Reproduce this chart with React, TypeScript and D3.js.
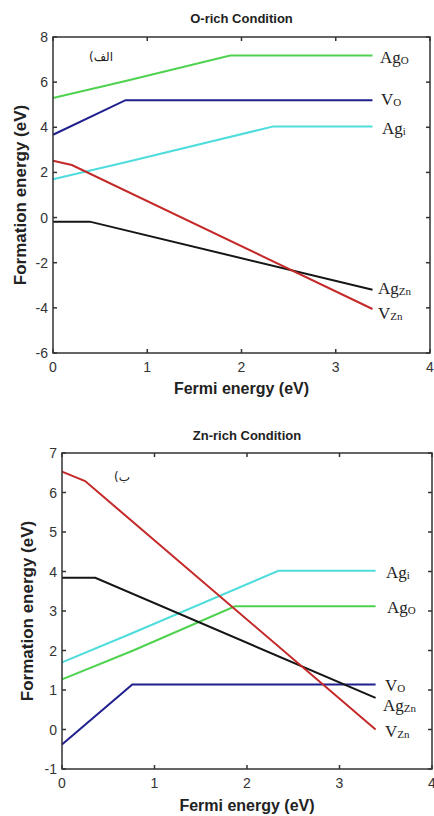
import React from "react";
import * as d3 from "d3";

// ---------- data ----------
const xTicks = [0, 1, 2, 3, 4];
const oRichYTicks = [-6, -4, -2, 0, 2, 4, 6, 8];
const znRichYTicks = [-1, 0, 1, 2, 3, 4, 5, 6, 7];

// O-rich condition (Fermi energy, formation energy)
const oRichAgO: [number, number][] = [[0, 5.3], [0.77, 6.05], [1.88, 7.18], [3.39, 7.18]];
const oRichVO: [number, number][] = [[0, 3.67], [0.77, 5.2], [3.39, 5.2]];
const oRichAgi: [number, number][] = [[0, 1.7], [0.77, 2.45], [2.34, 4.04], [3.39, 4.04]];
const oRichAgZn: [number, number][] = [[0, -0.18], [0.39, -0.18], [3.39, -3.2]];
const oRichVZn: [number, number][] = [[0, 2.52], [0.2, 2.33], [3.39, -4.05]];

// Zn-rich condition
const znRichAgi: [number, number][] = [[0, 1.7], [0.77, 2.45], [2.34, 4.02], [3.39, 4.02]];
const znRichAgO: [number, number][] = [[0, 1.27], [0.77, 2.0], [1.87, 3.12], [3.39, 3.12]];
const znRichVO: [number, number][] = [[0, -0.38], [0.76, 1.14], [3.39, 1.14]];
const znRichAgZn: [number, number][] = [[0, 3.84], [0.36, 3.84], [3.39, 0.8]];
const znRichVZn: [number, number][] = [[0, 6.53], [0.25, 6.29], [3.39, 0.0]];

const colors = {
  AgO: "#4fd24f",
  VO: "#1f1f8f",
  Agi: "#4fdcdc",
  AgZn: "#151515",
  VZn: "#c42828",
};

type Series = { data: [number, number][]; color: string; base: string; sub: string; ly: number; lx: number };

const serif = "'Liberation Serif', 'Times New Roman', serif";
const sans = "'Liberation Sans', Arial, sans-serif";

function Panel(props: {
  x0: number; x1: number; y0: number; y1: number;
  ydom: [number, number]; yTicks: number[];
  title: string; titleY: number; xLabelY: number; yLabelX: number;
  tag: string; tagX: number; tagY: number;
  series: Series[];
}) {
  const { x0, x1, y0, y1, ydom, yTicks, series } = props;
  const x = d3.scaleLinear().domain([0, 4]).range([x0, x1]);
  const y = d3.scaleLinear().domain(ydom).range([y1, y0]);
  const line = d3.line<[number, number]>().x((d) => x(d[0])).y((d) => y(d[1]));
  const tl = 4;
  const cx = (x0 + x1) / 2;
  const cy = (y0 + y1) / 2;
  return (
    <g>
      <text x={cx} y={props.titleY} textAnchor="middle" fontFamily={sans} fontWeight="bold" fontSize={13} fill="#222">
        {props.title}
      </text>
      {series.map((s, i) => (
        <path key={i} d={line(s.data) || ""} fill="none" stroke={s.color} strokeWidth={2} />
      ))}
      <rect x={x0} y={y0} width={x1 - x0} height={y1 - y0} fill="none" stroke="#333" strokeWidth={1.5} />
      {xTicks.map((t) => (
        <g key={"x" + t}>
          <line x1={x(t)} x2={x(t)} y1={y1} y2={y1 - tl} stroke="#333" strokeWidth={1.5} />
          <line x1={x(t)} x2={x(t)} y1={y0} y2={y0 + tl} stroke="#333" strokeWidth={1.5} />
          <text x={x(t)} y={y1 + 19} textAnchor="middle" fontFamily={sans} fontSize={14} fill="#333">{t}</text>
        </g>
      ))}
      {yTicks.map((t) => (
        <g key={"y" + t}>
          <line x1={x0} x2={x0 + tl} y1={y(t)} y2={y(t)} stroke="#333" strokeWidth={1.5} />
          <line x1={x1} x2={x1 - tl} y1={y(t)} y2={y(t)} stroke="#333" strokeWidth={1.5} />
          <text x={x0 - 5} y={y(t) + 5} textAnchor="end" fontFamily={sans} fontSize={14} fill="#333">{t}</text>
        </g>
      ))}
      <text x={cx} y={props.xLabelY} textAnchor="middle" fontFamily={sans} fontWeight="bold" fontSize={16} fill="#222">
        Fermi energy (eV)
      </text>
      <text transform={`translate(${props.yLabelX},${cy}) rotate(-90)`} textAnchor="middle" fontFamily={sans} fontWeight="bold" fontSize={17} fill="#222">
        Formation energy (eV)
      </text>
      <text x={props.tagX} y={props.tagY} textAnchor="middle" direction="rtl" fontFamily="'DejaVu Sans', sans-serif" fontSize={12} fill="#222">
        {props.tag}
      </text>
      {series.map((s, i) => (
        <text key={"l" + i} x={s.lx} y={s.ly + 6} fontFamily={serif} fontSize={17} fill="#222">
          {s.base}
          <tspan fontSize={11} dy={1}>{s.sub}</tspan>
        </text>
      ))}
    </g>
  );
}

export default function App() {
  const top: Series[] = [
    { data: oRichAgO, color: colors.AgO, base: "Ag", sub: "O", lx: 380, ly: 57 },
    { data: oRichVO, color: colors.VO, base: "V", sub: "O", lx: 381, ly: 99 },
    { data: oRichAgi, color: colors.Agi, base: "Ag", sub: "i", lx: 382, ly: 128 },
    { data: oRichAgZn, color: colors.AgZn, base: "Ag", sub: "Zn", lx: 378, ly: 288 },
    { data: oRichVZn, color: colors.VZn, base: "V", sub: "Zn", lx: 378, ly: 313 },
  ];
  const bottom: Series[] = [
    { data: znRichAgi, color: colors.Agi, base: "Ag", sub: "i", lx: 386, ly: 572 },
    { data: znRichAgO, color: colors.AgO, base: "Ag", sub: "O", lx: 387, ly: 607 },
    { data: znRichVO, color: colors.VO, base: "V", sub: "O", lx: 385, ly: 685 },
    { data: znRichAgZn, color: colors.AgZn, base: "Ag", sub: "Zn", lx: 383, ly: 705 },
    { data: znRichVZn, color: colors.VZn, base: "V", sub: "Zn", lx: 385, ly: 731 },
  ];
  return (
    <svg width={434} height={816} style={{ position: "absolute", left: 0, top: 0, background: "#fff" }}>
      <rect width={434} height={816} fill="#fff" />
      <Panel x0={53} x1={430} y0={37} y1={353} ydom={[-6, 8]} yTicks={oRichYTicks}
        title="O-rich Condition" titleY={23} xLabelY={394} yLabelX={26}
        tag="الف)" tagX={101} tagY={61} series={top} />
      <Panel x0={62} x1={432} y0={453} y1={769} ydom={[-1, 7]} yTicks={znRichYTicks}
        title="Zn-rich Condition" titleY={440} xLabelY={811} yLabelX={33}
        tag="ب)" tagX={122} tagY={481} series={bottom} />
    </svg>
  );
}
